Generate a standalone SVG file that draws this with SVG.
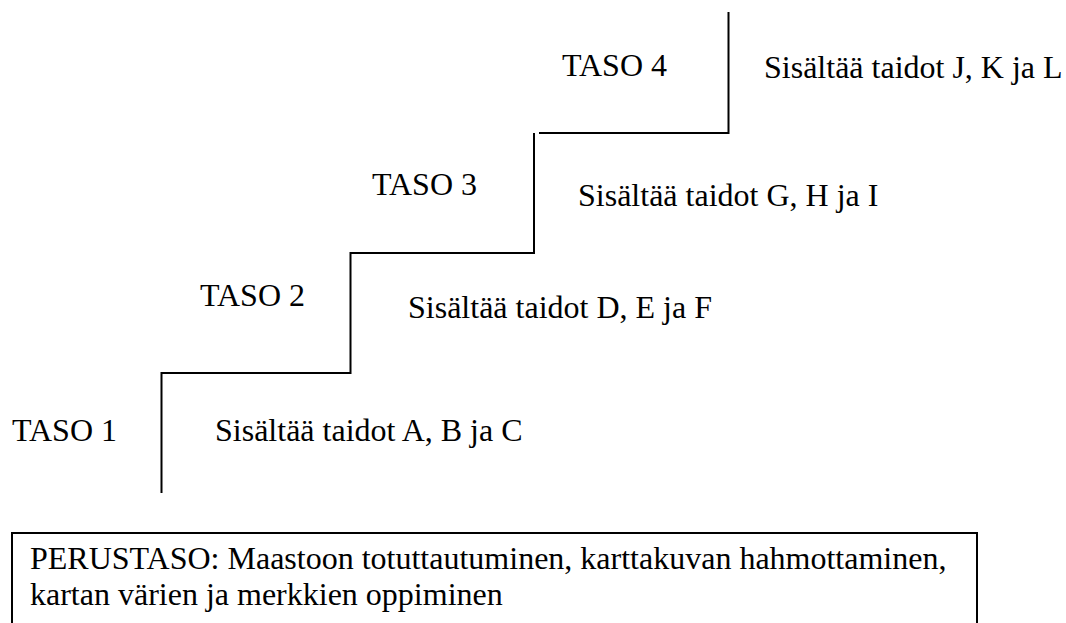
<svg xmlns="http://www.w3.org/2000/svg" width="1066" height="623" viewBox="0 0 1066 623">
<style>
.t{font-family:"Liberation Serif","Times New Roman",serif;font-size:32px;fill:#000}
.ln{fill:none;stroke:#000;stroke-width:2}
</style>
<rect width="1066" height="623" fill="#fff"/>
<g id="connectors">
<polyline class="ln" points="161.5,493 161.5,373 350.5,373 350.5,253 534,253 534,133"/>
<polyline class="ln" points="539,133 728.5,133 728.5,12"/>
</g>
<g id="taso1"><text class="t" x="12" y="441">TASO 1</text><text class="t" x="215" y="441">Sisältää taidot A, B ja C</text></g>
<g id="taso2"><text class="t" x="200" y="306">TASO 2</text><text class="t" x="408" y="318">Sisältää taidot D, E ja F</text></g>
<g id="taso3"><text class="t" x="372" y="195">TASO 3</text><text class="t" x="578" y="206">Sisältää taidot G, H ja I</text></g>
<g id="taso4"><text class="t" x="562" y="76">TASO 4</text><text class="t" x="764" y="78">Sisältää taidot J, K ja L</text></g>
<g id="perustaso">
<polyline class="ln" points="12,623 12,533 977,533 977,623"/>
<text class="t" x="30" y="569">PERUSTASO: Maastoon totuttautuminen, karttakuvan hahmottaminen,</text>
<text class="t" x="30" y="605">kartan värien ja merkkien oppiminen</text>
</g>
</svg>
